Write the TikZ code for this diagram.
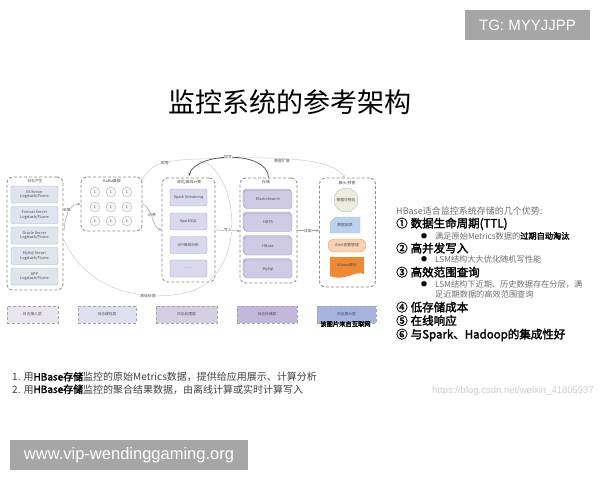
\documentclass[tikz,border=0pt]{standalone}
\usepackage{fontspec}
\setmainfont{Noto Sans CJK SC}
\newfontfamily\heavy{Noto Sans CJK SC}[FakeBold=2.2]
\newfontfamily\latinsans{Liberation Sans}
\usetikzlibrary{arrows.meta,shapes.misc,shadows}
\definecolor{badge}{HTML}{A6A6A6}
\definecolor{grpline}{HTML}{8A8A8A}
\definecolor{srvfill}{HTML}{DFE4EE}
\definecolor{srvline}{HTML}{A9B3C6}
\definecolor{cmpfill}{HTML}{D9D8EC}
\definecolor{cmpline}{HTML}{A8A6C8}
\definecolor{stofill}{HTML}{CFCBE5}
\definecolor{stoline}{HTML}{9E98C4}
\definecolor{circfill}{HTML}{ECECDF}
\definecolor{cardfill}{HTML}{B9D3EE}
\definecolor{pillfill}{HTML}{F8D2B4}
\definecolor{pillline}{HTML}{E49A66}
\definecolor{docfill}{HTML}{EE8A35}
\definecolor{layA}{HTML}{E9E5EF}
\definecolor{layB}{HTML}{DFE0EF}
\definecolor{layC}{HTML}{D4CFE3}
\definecolor{layD}{HTML}{C3B8DB}
\definecolor{layE}{HTML}{A7B4E0}
\definecolor{txtgray}{HTML}{6E6E6E}
\begin{document}
\begin{tikzpicture}[x=1pt,y=-1pt,
  grp/.style={draw=grpline, line width=0.8pt, dash pattern=on 3pt off 2pt, rounded corners=6pt},
  tiny/.style={font=\fontsize{3.8}{4.4}\selectfont, text=black!70, align=center, inner sep=0pt},
  srv/.style={tiny, draw=srvline, fill=srvfill, rounded corners=2pt, minimum width=47pt, minimum height=17pt},
  cmp/.style={tiny, draw=cmpline, fill=cmpfill, rounded corners=2pt, minimum width=37pt, minimum height=17pt},
  sto/.style={tiny, draw=stoline, fill=stofill, rounded corners=3pt, minimum width=48pt, minimum height=18pt,
     copy shadow={shadow xshift=-1pt, shadow yshift=1.5pt, draw=stoline, fill=stofill}},
  kc/.style={tiny, circle, draw=gray!60, fill=gray!8, minimum size=10pt},
  lay/.style={tiny, draw=gray!70, densely dashed, minimum height=17pt},
  arr/.style={draw=gray!75, line width=0.5pt, -{Stealth[length=3pt,width=2.5pt]}},
  larr/.style={draw=gray!40, line width=0.5pt},
  hdr/.style={anchor=base west, font=\heavy\fontsize{11.5}{13}\selectfont, inner sep=0pt},
  sub/.style={anchor=base west, font=\fontsize{8.2}{10}\selectfont, text=txtgray, inner sep=0pt},
  bul/.style={anchor=base west, font=\fontsize{6}{7}\selectfont, inner sep=0pt}
]
\useasboundingbox (0,0) rectangle (600,480);
\fill[white] (0,0) rectangle (600,480);

% badges
\node[fill=badge, text=white, font=\latinsans\fontsize{15}{18}\selectfont, minimum width=125pt, minimum height=30pt, inner sep=0pt] (tg) at (527.5,25) {TG: MYYJJPP};
\node[fill=badge, text=white, font=\latinsans\fontsize{16.5}{19}\selectfont, minimum width=238pt, minimum height=30pt, inner sep=0pt] (wm) at (129,455) {www.vip-wendinggaming.org};

% title
\node[font=\fontsize{27}{30}\selectfont, inner sep=0pt] (title) at (290,102) {监控系统的参考架构};

% group 1
\node[grp, minimum width=56pt, minimum height=113pt] (g1) at (35,233.5) {};
\node[tiny] (g1l) at (35,181.5) {日志产生};
\node[srv] (s1) at (34.5,194.5) {IIS Server\\Logstash/Flume};
\node[srv] (s2) at (34.5,215) {Tomcat Server\\Logstash/Flume};
\node[srv] (s3) at (34.5,235.5) {Oracle Server\\Logstash/Flume};
\node[srv] (s4) at (34.5,256) {MySql Server\\Logstash/Flume};
\node[srv] (s5) at (34.5,276.5) {APP\\Logstash/Flume};

% group 2 kafka
\node[grp, minimum width=61pt, minimum height=54pt] (g2) at (111.5,204) {};
\node[tiny] (g2l) at (112,181.5) {Kafka集群};
\foreach \i/\xx in {1/95,2/111,3/127}{
  \foreach \j/\yy in {1/192,2/207,3/221}{
    \node[kc] (k\i\j) at (\xx,\yy) {1};
  }
}

% group 3 compute
\node[grp, minimum width=53pt, minimum height=104pt] (g3) at (188.5,230) {};
\node[tiny] (g3l) at (189,182) {流式/离线计算};
\node[cmp] (c1) at (188.5,197.5) {Spark Streaming};
\node[cmp] (c2) at (188.5,221.5) {SparkSQL};
\node[cmp] (c3) at (188.5,245) {API离线分析};
\node[cmp] (c4) at (188.5,268.5) {......};

% group 4 storage
\node[grp, minimum width=57pt, minimum height=105pt] (g4) at (268.5,230.5) {};
\node[tiny] (g4l) at (266,182.5) {存储};
\node[sto] (d1) at (268,199.5) {ElasticSearch};
\node[sto] (d2) at (268,222.5) {HDFS};
\node[sto] (d3) at (268,246) {HBase};
\node[sto] (d4) at (268,269) {MySql};

% group 5 display
\node[grp, minimum width=56pt, minimum height=109pt] (g5) at (347.5,232.5) {};
\node[tiny] (g5l) at (347,183) {展示/预警};
\node[tiny, circle, draw=gray!55, fill=circfill, minimum size=24pt] (v1) at (346,200) {数据可视化};
\node[tiny, chamfered rectangle, chamfered rectangle corners=north west, chamfered rectangle xsep=3pt, draw=gray!50, fill=cardfill, minimum width=30pt, minimum height=16pt] (v2) at (345,225) {数据报表};
\node[tiny, rounded rectangle, draw=pillline, fill=pillfill, minimum width=38pt, minimum height=13pt] (v3) at (347,245.5) {Alert告警管理};
\fill[docfill] (330,257) -- (364,257) -- (364,274) .. controls (355,270) and (345,282) .. (330,276) -- cycle;
\node[tiny] (v4) at (347,265) {Kibana展示};

% bottom layers
\node[lay, fill=layA, minimum width=51pt] (L1) at (32.5,314.5) {日志接入层};
\node[lay, fill=layB, minimum width=58pt] (L2) at (107,314.5) {日志缓存层};
\node[lay, fill=layC, minimum width=61pt] (L3) at (186.5,314.5) {日志处理层};
\node[lay, fill=layD, minimum width=60pt] (L4) at (267,314.5) {日志存储层};
\node[lay, fill=layE, minimum width=59pt] (L5) at (346.5,314.5) {日志展示层};
\node[font=\heavy\fontsize{6.3}{7}\selectfont, inner sep=0pt] (ov) at (345.5,324) {该图片来自互联网};

% light curves
\coordinate (kc) at (142,180);
\coordinate (g1o) at (63,238);
\coordinate (g5t) at (345,178);
\coordinate (g4in) at (240,231);
\draw[larr, -{Stealth[length=3pt,width=2.5pt]}] (kc) .. controls (150,165) and (160,160) .. (200,159) .. controls (260,157) and (330,155) .. (g5t);
\draw[larr] (g1o) .. controls (90,300) and (160,302) .. (195,290) .. controls (240,270) and (240,200) .. (215,170) .. controls (208,163) .. (198,161);
\node[tiny, fill=white, inner sep=0.6pt] (lb1) at (165,163) {报警};
\node[tiny, fill=white, inner sep=0.6pt] (lb2) at (282,161.5) {数据扩展};
\node[tiny, fill=white, inner sep=0.6pt] (lb3) at (148,296.5) {离线处理};

% dark arc storage -> compute
\draw[draw=black!70, line width=0.7pt, -{Stealth[length=3pt,width=2.5pt]}] (g4.north) .. controls (268,150) and (195,152) .. (189,176);
\node[tiny, fill=white, inner sep=0.6pt] (lb4) at (228,157) {回写};

% short arrows
\coordinate (a1s) at (64,230);
\draw[arr] (a1s) .. controls (66,210) and (72,204) .. (g2.west);
\node[tiny, fill=white, inner sep=0.6pt] (lb5) at (67,210) {采集};
\draw[arr] (g2.east) .. controls (152,206) and (152,228) .. (g3.west);
\node[tiny, fill=white, inner sep=0.6pt] (lb6) at (152,215) {消费};
\draw[arr] (g3.east) -- (g4in);
\node[tiny, fill=white, inner sep=0.6pt] (lb7) at (228,230) {写入};
\draw[arr] (g4.east) -- (g5.west |- g4.east);
\node[tiny, fill=white, inner sep=0.6pt] (lb8) at (308,231) {读取};

% right text block
\node[anchor=base west, font=\fontsize{9}{10}\selectfont, text=txtgray, inner sep=0pt] (h0) at (396,214.5) {HBase适合监控系统存储的几个优势:};
\node[hdr] (h1) at (396,227.5) {①\hspace{3pt}数据生命周期(TTL)};
\node[bul] (b1) at (421,238.5) {●};
\node[sub] (t1) at (435,239) {满足原始Metrics数据的{\heavy\color{black}过期自动淘汰}};
\node[hdr] (h2) at (396,252.5) {②\hspace{3pt}高并发写入};
\node[bul] (b2) at (421,261.5) {●};
\node[sub] (t2) at (435,262) {LSM结构大大优化随机写性能};
\node[hdr] (h3) at (396,276.5) {③\hspace{3pt}高效范围查询};
\node[bul] (b3) at (421,286.5) {●};
\node[sub] (t3) at (435,287) {LSM结构下近期、历史数据存在分层，满};
\node[sub] (t3b) at (435,297.5) {足近期数据的高效范围查询};
\node[hdr] (h4) at (396,311.5) {④\hspace{3pt}低存储成本};
\node[hdr] (h5) at (396,325) {⑤\hspace{3pt}在线响应};
\node[hdr] (h6) at (396,338.5) {⑥\hspace{3pt}与Spark、Hadoop的集成性好};

% bottom lines
\node[anchor=base west, font=\fontsize{10}{11}\selectfont, text=black!75, inner sep=0pt] (n1) at (12,380.5) {1. 用{\heavy\color{black}HBase存储}监控的原始Metrics数据，提供给应用展示、计算分析};
\node[anchor=base west, font=\fontsize{10}{11}\selectfont, text=black!75, inner sep=0pt] (n2) at (12,393) {2. 用{\heavy\color{black}HBase存储}监控的聚合结果数据，由离线计算或实时计算写入};
\node[anchor=base west, font=\latinsans\fontsize{9.5}{11}\selectfont, text=gray!40, inner sep=0pt] (csdn) at (432,393) {https://blog.csdn.net/weixin\_41805937};
\end{tikzpicture}
\end{document}
